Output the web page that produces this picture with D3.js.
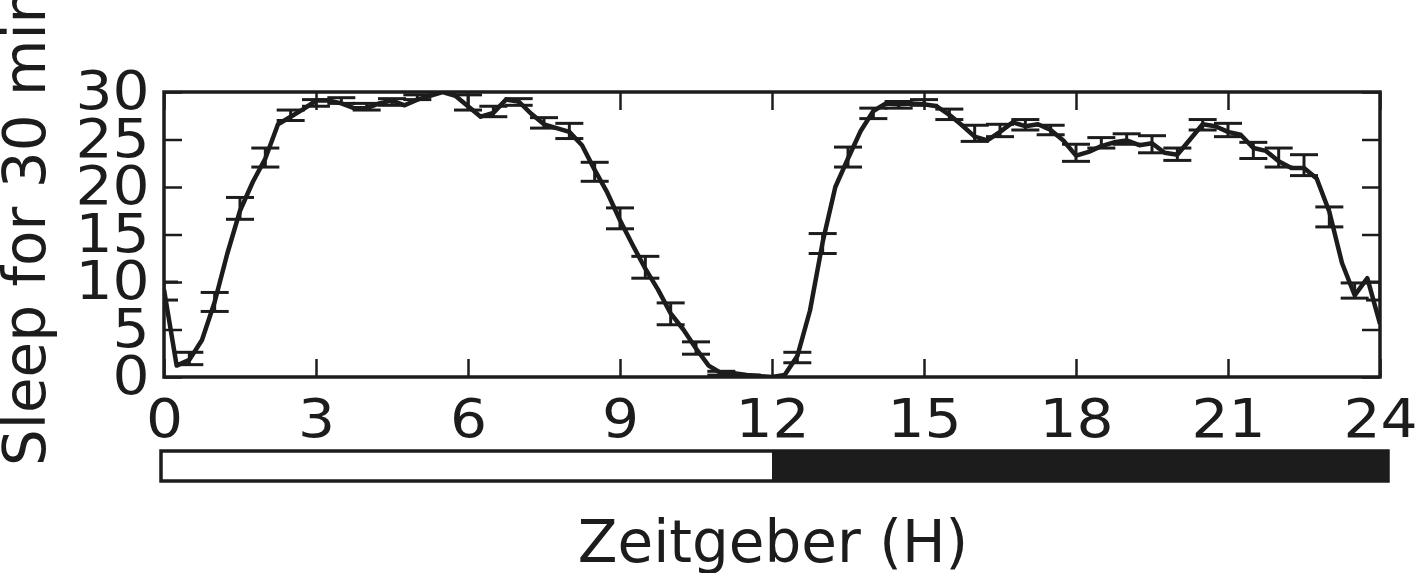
<!doctype html>
<html>
<head>
<meta charset="utf-8">
<style>
    body { margin: 0; background: #fff; }
    text { font-family: "DejaVu Sans", sans-serif; fill: #1c1c1c; }
</style>
<script src="https://d3js.org/d3.v7.min.js"></script>
</head>
<body>
<svg width="1417" height="573"></svg>

<script>
    // mean sleep, quarter-hour samples from ZT0 to ZT24
    var sleep = [
        9.2, 1.2, 1.8, 3.9, 7.9, 13.0, 17.5, 20.5, 23.0, 26.6, 27.4, 28.2,
        29.1, 29.1, 28.8, 28.3, 28.3, 28.8, 29.1, 28.6, 29.2, 29.6, 30.0, 29.6,
        28.5, 27.4, 27.8, 29.2, 29.0, 27.7, 26.6, 26.2, 25.8, 24.4, 21.8, 19.4,
        16.5, 13.9, 11.4, 9.2, 6.7, 5.0, 3.0, 1.2, 0.4, 0.4, 0.2, 0.1,
        0.0, 0.2, 2.2, 7.0, 14.2, 20.0, 23.0, 25.9, 28.0, 28.8, 28.7, 28.8,
        28.7, 28.5, 27.6, 26.5, 25.3, 24.9, 25.8, 26.8, 26.4, 26.6, 26.0, 24.9,
        23.3, 23.7, 24.3, 24.7, 24.9, 24.4, 24.6, 23.6, 23.4, 25.0, 26.6, 26.4,
        25.8, 25.5, 24.1, 23.8, 22.7, 22.0, 22.0, 20.9, 17.4, 12.0, 8.6, 10.4,
        5.6
    ];
    var sleepHours = sleep.map(function(d, i) { return i / 4; });

    // error bars every half hour: mean and SEM
    var errHours = d3.range(0, 24.01, 0.5);
    var errMean = [
        9.05, 1.95, 7.9, 17.75, 23.1, 27.55, 28.85, 29.1, 28.45, 28.95, 29.45, 30.0,
        28.9, 27.95, 28.95, 26.75, 25.9, 21.6, 16.7, 11.55, 6.65, 3.05, 0.4, 0.1,
        0.0, 2.05, 14.05, 23.15, 27.75, 28.65, 28.9, 27.65, 25.65, 25.95, 26.55, 26.0,
        23.6, 24.65, 25.05, 24.5, 23.45, 26.55, 26.0, 23.85, 23.1, 22.3, 16.85, 9.1,
        9.05
    ];
    var errSem = [
        0.95, 0.65, 1.0, 1.15, 1.0, 0.55, 0.35, 0.3, 0.35, 0.35, 0.25, 0.0,
        0.8, 0.55, 0.35, 0.55, 0.8, 1.0, 1.1, 1.15, 1.15, 0.65, 0.2, 0.1,
        0.0, 0.55, 1.05, 1.05, 0.55, 0.35, 0.3, 0.55, 0.85, 0.65, 0.55, 0.5,
        0.9, 0.55, 0.55, 0.9, 0.65, 0.55, 0.7, 0.85, 1.0, 1.1, 1.05, 0.8,
        0.95
    ];

    var xTicks = [0, 3, 6, 9, 12, 15, 18, 21, 24];
    var yTicks = [0, 5, 10, 15, 20, 25, 30];
    var phases = [
        { from: 0, to: 12, fill: "#ffffff" },
        { from: 12, to: 24, fill: "#1c1c1c" }
    ];

    var ink = "#1c1c1c";
    var svg = d3.select("svg");
    var plotL = 164, plotR = 1380, plotT = 92, plotB = 377;

    var x = d3.scaleLinear().domain([0, 24]).range([plotL, plotR]);
    var y = d3.scaleLinear().domain([0, 30]).range([plotB, plotT]);

    svg.append("clipPath").attr("id", "plot")
       .append("rect")
       .attr("x", plotL).attr("y", plotT)
       .attr("width", plotR - plotL).attr("height", plotB - plotT);

    var g = svg.append("g").attr("clip-path", "url(#plot)");

    // error bars
    var eb = g.selectAll(".err")
        .data(errHours)
        .enter().append("g")
        .attr("class", "err")
        .attr("stroke", ink)
        .attr("stroke-width", 3);

    eb.append("line")
      .attr("x1", function(d) { return x(d); })
      .attr("x2", function(d) { return x(d); })
      .attr("y1", function(d, i) { return y(errMean[i] - errSem[i]); })
      .attr("y2", function(d, i) { return y(errMean[i] + errSem[i]); });

    eb.append("line")
      .attr("x1", function(d) { return x(d) - 14; })
      .attr("x2", function(d) { return x(d) + 14; })
      .attr("y1", function(d, i) { return y(errMean[i] + errSem[i]); })
      .attr("y2", function(d, i) { return y(errMean[i] + errSem[i]); });

    eb.append("line")
      .attr("x1", function(d) { return x(d) - 14; })
      .attr("x2", function(d) { return x(d) + 14; })
      .attr("y1", function(d, i) { return y(errMean[i] - errSem[i]); })
      .attr("y2", function(d, i) { return y(errMean[i] - errSem[i]); });

    // mean line
    var line = d3.line()
        .x(function(d, i) { return x(sleepHours[i]); })
        .y(function(d) { return y(d); });

    g.append("path")
        .datum(sleep)
        .attr("fill", "none")
        .attr("stroke", ink)
        .attr("stroke-width", 4.5)
        .attr("stroke-linejoin", "round")
        .attr("d", line);

    // inward ticks on all four sides
    function styleAxis(sel) {
        sel.select(".domain").remove();
        sel.selectAll(".tick line").attr("stroke", ink).attr("stroke-width", 2.5);
        sel.selectAll("text")
           .style("font-size", "53px")
           .attr("fill", ink)
           .attr("transform", "scale(1.1,1)");   // reference digits are a bit wider
    }

    svg.append("g")
       .attr("transform", "translate(0," + plotB + ")")
       .call(d3.axisBottom(x).tickValues(xTicks).tickSizeInner(-18).tickPadding(22))
       .call(styleAxis)
       .selectAll("text").attr("dy", "0.71em");

    svg.append("g")
       .attr("transform", "translate(0," + plotT + ")")
       .call(d3.axisTop(x).tickValues(xTicks).tickSizeInner(-18).tickFormat(""))
       .call(styleAxis);

    svg.append("g")
       .attr("transform", "translate(" + plotL + ",0)")
       .call(d3.axisLeft(y).tickValues(yTicks).tickSizeInner(-18).tickPadding(13))
       .call(styleAxis);

    svg.append("g")
       .attr("transform", "translate(" + plotR + ",0)")
       .call(d3.axisRight(y).tickValues(yTicks).tickSizeInner(-18).tickFormat(""))
       .call(styleAxis);

    svg.append("rect")
       .attr("x", plotL).attr("y", plotT)
       .attr("width", plotR - plotL).attr("height", plotB - plotT)
       .attr("fill", "none")
       .attr("stroke", ink)
       .attr("stroke-width", 3.5);

    // light / dark bar
    var barT = 451, barH = 30;
    var barX0 = x(0) - 3, barX1 = x(24) + 8;
    function px(h) { return h === 0 ? barX0 : h === 24 ? barX1 : x(h); }

    svg.selectAll(".phase")
       .data(phases)
       .enter().append("rect")
       .attr("class", "phase")
       .attr("x", function(d) { return px(d.from); })
       .attr("y", barT)
       .attr("width", function(d) { return px(d.to) - px(d.from); })
       .attr("height", barH)
       .attr("fill", function(d) { return d.fill; });

    svg.append("rect")
       .attr("x", barX0).attr("y", barT)
       .attr("width", barX1 - barX0).attr("height", barH)
       .attr("fill", "none")
       .attr("stroke", ink)
       .attr("stroke-width", 3.5);

    // axis titles
    svg.append("text")
       .attr("x", (plotL + plotR) / 2 + 1)
       .attr("y", 562)
       .attr("text-anchor", "middle")
       .style("font-size", "58px")
       .text("Zeitgeber (H)");

    svg.append("text")
       .attr("transform", "translate(45,466) rotate(-90)")
       .attr("text-anchor", "start")
       .style("font-size", "58px")
       .text("Sleep for 30 min");
</script>
</body>
</html>
